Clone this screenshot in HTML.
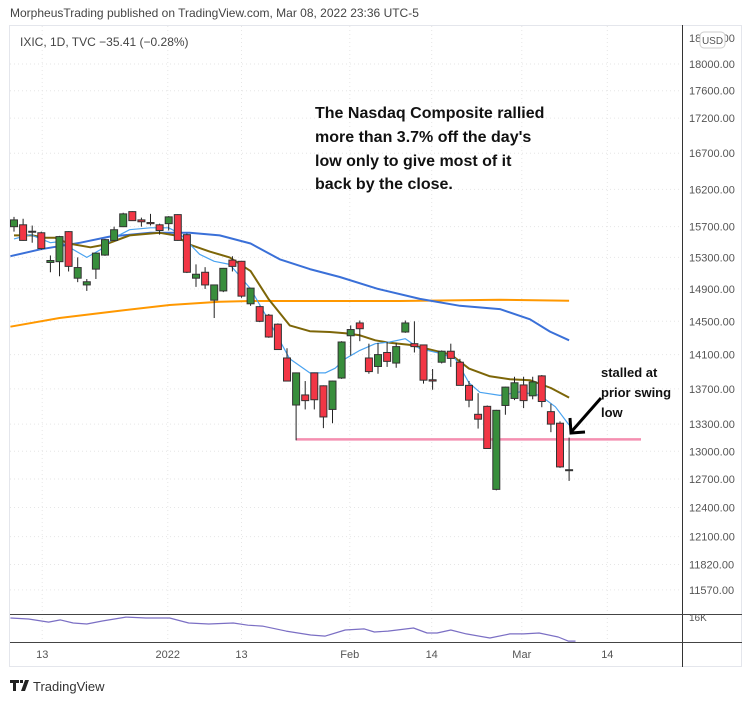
<!DOCTYPE html>
<html><head><meta charset="utf-8"><style>
html,body{margin:0;padding:0;background:#fff;}
svg{display:block;font-family:"Liberation Sans",sans-serif;}
</style></head><body>
<svg id="c" width="752" height="703" viewBox="0 0 752 703">
<text x="10" y="17" font-size="12" fill="#444">MorpheusTrading published on TradingView.com, Mar 08, 2022 23:36 UTC-5</text>
<rect x="9.5" y="25.5" width="732" height="641" fill="#fff" stroke="#e4e6ec"/>
<g id="grid"></g>
<g id="mas"></g>
<g id="candles"></g>
<line x1="682.5" y1="25" x2="682.5" y2="667" stroke="#333"/>
<line x1="10" y1="614.5" x2="742" y2="614.5" stroke="#444"/>
<line x1="10" y1="642.5" x2="742" y2="642.5" stroke="#444"/>
<g id="ylabels" font-size="11" fill="#555"></g>
<g id="xlabels" font-size="11" fill="#555"></g>
<rect x="700" y="32" width="25" height="16" rx="4" fill="#fff" stroke="#ccc"/>
<text x="712.5" y="44" font-size="10" fill="#555" text-anchor="middle">USD</text>
<text x="20" y="46" font-size="12" fill="#444">IXIC, 1D, TVC  −35.41 (−0.28%)</text>
<g font-size="16" font-weight="bold" fill="#111">
<text x="315" y="118">The Nasdaq Composite rallied</text>
<text x="315" y="142">more than 3.7% off the day's</text>
<text x="315" y="166">low only to give most of it</text>
<text x="315" y="189">back by the close.</text>
</g>
<g font-size="13" font-weight="bold" fill="#111">
<text x="601" y="377">stalled at</text>
<text x="601" y="397">prior swing</text>
<text x="601" y="417">low</text>
</g>
<g stroke="#000" stroke-width="3" fill="none">
<line x1="601" y1="398" x2="572" y2="431"/>
<polyline points="570,418 571,433 585,432"/>
</g>
<g>
<path d="M10 680h9v3h-3v8h-3v-8h-3z M20 680h3v3h-3z M25 680h4l-4 11h-4z" fill="#222"/>
<text x="33" y="691" font-size="13" fill="#333">TradingView</text>
</g>
</svg>
<script>
const NS="http://www.w3.org/2000/svg";
// candle data (open, high, low, close)
const opens=[15700,15725,15640,15620,15235,15245,15635,15035,14950,15150,15330,15520,15700,15900,15790,15755,15725,15740,15860,15595,15035,15110,14760,14875,15265,15250,14715,14680,14575,14465,14060,13515,13630,13885,13735,13465,13825,14325,14480,14060,13960,14125,14000,14370,14230,14215,13805,14010,14140,14010,13740,13410,13500,12590,13510,13590,13745,13620,13850,13440,13310,12800];
const highs=[15830,15805,15715,15635,15325,15580,15640,15300,15025,15360,15540,15700,15885,15905,15820,15870,15740,15840,15865,15610,15210,15175,14955,15165,15315,15255,14915,14690,14590,14475,14175,13890,13790,13890,13740,13795,14260,14450,14510,14230,14240,14250,14240,14510,14500,14220,13930,14150,14230,14050,13790,13650,13510,13460,13725,13840,13840,13840,13860,13530,13330,13150];
const lows=[15635,15515,15490,15400,15110,15060,15120,14985,14875,15025,15320,15510,15695,15775,15700,15715,15595,15650,15515,15100,14925,14900,14540,14860,15120,14790,14690,14490,14300,14155,13785,13120,13465,13465,13255,13310,13815,14090,14260,13875,13875,13955,13945,14360,14125,13760,13690,13995,13955,13740,13490,13250,13025,12580,13405,13570,13480,13580,13490,13210,12820,12680];
const closes=[15790,15520,15630,15415,15260,15570,15185,15170,14990,15355,15530,15660,15870,15780,15765,15740,15650,15830,15520,15110,15085,14950,14950,15160,15185,14810,14910,14500,14310,14160,13790,13885,13565,13575,13380,13790,14250,14400,14410,13900,14100,14020,14195,14480,14195,13800,13790,14140,14055,13740,13570,13355,13030,13455,13720,13770,13565,13780,13555,13300,12830,12795];
// moving averages: bar index + value
const ema10Idx=[0,1.8,4,5,8,9.5,11,12.7,15,17,18.2,20.4,22,23.7,26,28,30.3,32.5,34.2,35.3,36.4,38,39.7,41.3,43,44.6,46.8,48.5,50,51.2,53.4,55.6,57.8,59.5,61];
const ema10Val=[15540,15595,15490,15505,15300,15400,15555,15660,15685,15685,15610,15340,15250,15210,14900,14510,14050,13885,13885,13940,14050,14150,14230,14250,14290,14170,14115,14050,13770,13660,13625,13665,13625,13495,13290];
const ma20Idx=[0,2,3.4,4.5,6,8.4,10,12.7,16,17.7,19.3,21.5,23.7,26,28,30.3,32.5,34.7,36.4,38,39.7,41.3,43.5,45.7,48,50,52.3,54.5,56.7,59,61];
const ma20Val=[15585,15585,15555,15555,15480,15430,15465,15585,15620,15585,15465,15375,15300,15125,14770,14450,14380,14370,14355,14330,14270,14240,14215,14160,14100,13935,13845,13810,13800,13710,13600];
const ma50Idx=[-0.4,2.9,7.3,10.5,15,19.3,22.6,26,29.2,32.5,35.8,40,44.6,49,53.4,56.7,58.9,61];
const ma50Val=[15315,15405,15490,15570,15620,15620,15585,15480,15275,15150,15050,14900,14775,14690,14650,14525,14375,14270];
const ma200Idx=[-0.4,5,11.6,17.1,22.6,26,31.4,42.4,53.4,61];
const ma200Val=[14435,14540,14630,14700,14740,14750,14750,14750,14765,14752];
const supportLevel=13130, supportFrom=31, supportTo=68.9;
// volume pane (K)
const volIdx=[-0.4,1.6,3.8,5.1,6.5,8,9.7,12.3,14.5,17.1,19.2,21.4,24.1,25.7,27.3,29.9,32.6,34.2,36.4,38.5,39.6,41.1,43.9,45.4,46.5,48,49.7,52.3,54.5,56,57.7,59.8,60.9,61.7];
const volVal=[15.7,15.4,14.4,15.1,14.1,13.8,14.75,16,15.7,15.7,14.1,13.8,14.1,13.4,13.1,11.5,10.25,9.9,11.85,12.2,11.2,11.5,12.5,10.9,10.9,11.85,10.6,9.3,10.6,10.6,10.9,9.6,8.3,8.3];
// axis ticks
const priceTicks=[18400,18000,17600,17200,16700,16200,15700,15300,14900,14500,14100,13700,13300,13000,12700,12400,12100,11820,11570];
const timeTickIdx=[3.1,16.9,25,36.9,45.9,55.8,65.2];
const timeTickLabels=["13","2022","13","Feb","14","Mar","14"];

const X=i=>14+9.1*i;
const Y=p=>64-1190*Math.log(p/18000);
const VY=v=>614+(17-v)/9*28;
function mk(tag,attrs,parent){const e=document.createElementNS(NS,tag);for(const k in attrs)e.setAttribute(k,attrs[k]);parent.appendChild(e);return e;}
const grid=document.getElementById('grid'),yl=document.getElementById('ylabels'),xl=document.getElementById('xlabels');
priceTicks.forEach(p=>{const y=Y(p);
 if(y>50){const g=mk('line',{x1:10,x2:682,y1:y,y2:y,stroke:'#e6e6e6','stroke-dasharray':'1,3'},grid);
 
 }
 const t=mk('text',{x:689,y:y+4},yl);t.textContent=p.toFixed(2);
 
 });
const t16=mk('text',{x:689,y:621,'font-size':10},yl);t16.textContent='16K';


timeTickIdx.forEach((ix,k)=>{const x=X(ix);
 const g=mk('line',{x1:x,x2:x,y1:26,y2:642,stroke:'#e6e6e6','stroke-dasharray':'1,3'},grid);
 
 
 const t=mk('text',{x:x,y:658,'text-anchor':'middle'},xl);t.textContent=timeTickLabels[k];
 
 });
const mas=document.getElementById('mas');
function line(idx,val,color,w,name,yf){const pts=idx.map((i,k)=>X(i).toFixed(1)+','+(yf||Y)(val[k]).toFixed(1)).join(' ');
 const p=mk('polyline',{points:pts,fill:'none',stroke:color,'stroke-width':w,'stroke-linejoin':'round'},mas);
 
 }
line(ma200Idx,ma200Val,'#ff9800',2,'ma200-line');
line(ma50Idx,ma50Val,'#3a70d8',2,'ma50-line');
line(ma20Idx,ma20Val,'#7d6608',2,'ma20-line');
line(ema10Idx,ema10Val,'#4aa3f0',1.2,'ema10-line');
line(volIdx,volVal,'#7b6fc4',1.2,'volume-ma-line',VY);
const sp=mk('line',{x1:X(supportFrom),x2:X(supportTo),y1:Y(supportLevel),y2:Y(supportLevel),stroke:'#f48fb1','stroke-width':2.5},mas);


const cg=document.getElementById('candles');
opens.forEach((o,i)=>{const c=closes[i],x=X(i),up=c>=o;
 const g=mk('g',{},cg);
 
 
 mk('line',{x1:x,x2:x,y1:Y(highs[i]),y2:Y(lows[i]),stroke:'#222','stroke-width':1},g);
 const top=Y(Math.max(o,c)),bot=Y(Math.min(o,c));
 mk('rect',{x:x-3.5,y:top,width:7,height:Math.max(1,bot-top),fill:up?'#388e3c':'#f23645',stroke:'#333','stroke-width':1},g);});
</script>
</body></html>
